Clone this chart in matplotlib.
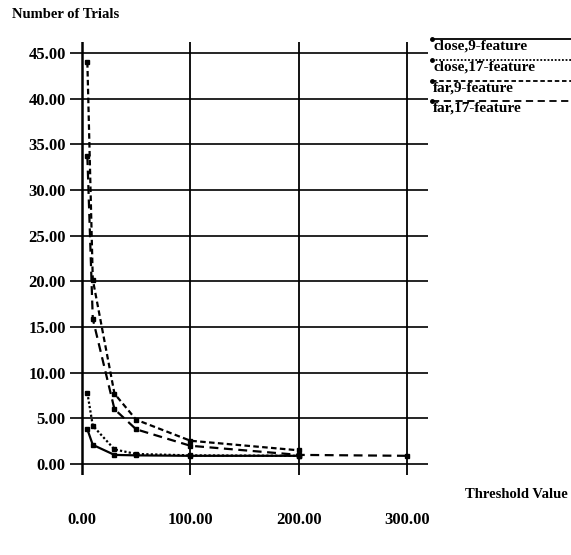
import matplotlib
matplotlib.use("Agg")
import matplotlib.pyplot as plt
from matplotlib.lines import Line2D

# ---- data ----
series_names = ["close,9-feature", "close,17-feature", "far,9-feature", "far,17-feature"]
x_close = [5, 10, 30, 50, 100, 200]
x_far9 = [5, 10, 30, 50, 100, 200]
x_far17 = [5, 10, 30, 50, 100, 200, 300]
close9 = [3.8, 2.1, 1.0, 0.95, 0.9, 0.9]
close17 = [7.8, 4.2, 1.6, 1.1, 0.95, 0.9]
far9 = [44.0, 20.2, 7.7, 4.85, 2.55, 1.5]
far17 = [33.7, 15.9, 6.0, 3.8, 2.0, 1.0, 0.9]
xticks = [0, 100, 200, 300]
yticks = [0, 5, 10, 15, 20, 25, 30, 35, 40, 45]

xs = [x_close, x_close, x_far9, x_far17]
ys = [close9, close17, far9, far17]
styles = ["-", (0, (1, 1)), (0, (2.5, 1.5)), (0, (4, 2.5))]

FONT = "Liberation Serif"

W, H = 571, 555
fig = plt.figure(figsize=(W / 100, H / 100), dpi=100)
fig.patch.set_facecolor("white")

# axes placement (pixel-based)
left_px, right_px, top_px, bot_px = 70, 428, 42, 475
ax = fig.add_axes([left_px / W, 1 - bot_px / H, (right_px - left_px) / W, (bot_px - top_px) / H])
ax.set_xlim(-11, 319)
ax.set_ylim(-1.2, 46.2)
for s in ax.spines.values():
    s.set_visible(False)
ax.set_facecolor("white")

for yv in yticks:
    ax.axhline(yv, color="black", lw=1.2, zorder=1)
for xv in xticks:
    ax.axvline(xv, color="black", lw=1.8 if xv == 0 else 1.3, zorder=1)

for xv, yv, ls in zip(xs, ys, styles):
    ax.plot(xv, yv, color="black", lw=1.6, linestyle=ls, marker="s",
            markersize=2.8, zorder=3)

ax.set_xticks(xticks)
ax.set_xticklabels([f"{v:.2f}" for v in xticks], fontfamily=FONT,
                   fontweight="bold", fontsize=12)
ax.set_yticks(yticks)
ax.set_yticklabels([f"{v:.2f}" for v in yticks], fontfamily=FONT,
                   fontweight="bold", fontsize=12)
ax.tick_params(axis="both", length=0)
ax.tick_params(axis="x", pad=27)
ax.tick_params(axis="y", pad=3)

fig.text(12 / W, 1 - 15 / H, "Number of Trials", fontfamily=FONT,
         fontweight="bold", fontsize=10.5, va="center", ha="left")
fig.text(568 / W, 1 - 494 / H, "Threshold Value", fontfamily=FONT,
         fontweight="bold", fontsize=10.5, va="center", ha="right")

# legend at the right
line_y = [39, 60, 81, 101]
for name, ls, ly in zip(series_names, styles, line_y):
    fig.add_artist(Line2D([432 / W, 571 / W], [1 - ly / H, 1 - ly / H],
                          color="black", lw=1.3, linestyle=ls,
                          transform=fig.transFigure))
    fig.add_artist(Line2D([432 / W], [1 - ly / H], color="black", marker="o",
                          markersize=2.5, linestyle="none",
                          transform=fig.transFigure))
    fig.text(433 / W, 1 - (ly + 7) / H, name, fontfamily=FONT,
             fontweight="bold", fontsize=11, va="center", ha="left")

fig.savefig("out.png", dpi=100, facecolor="white")
